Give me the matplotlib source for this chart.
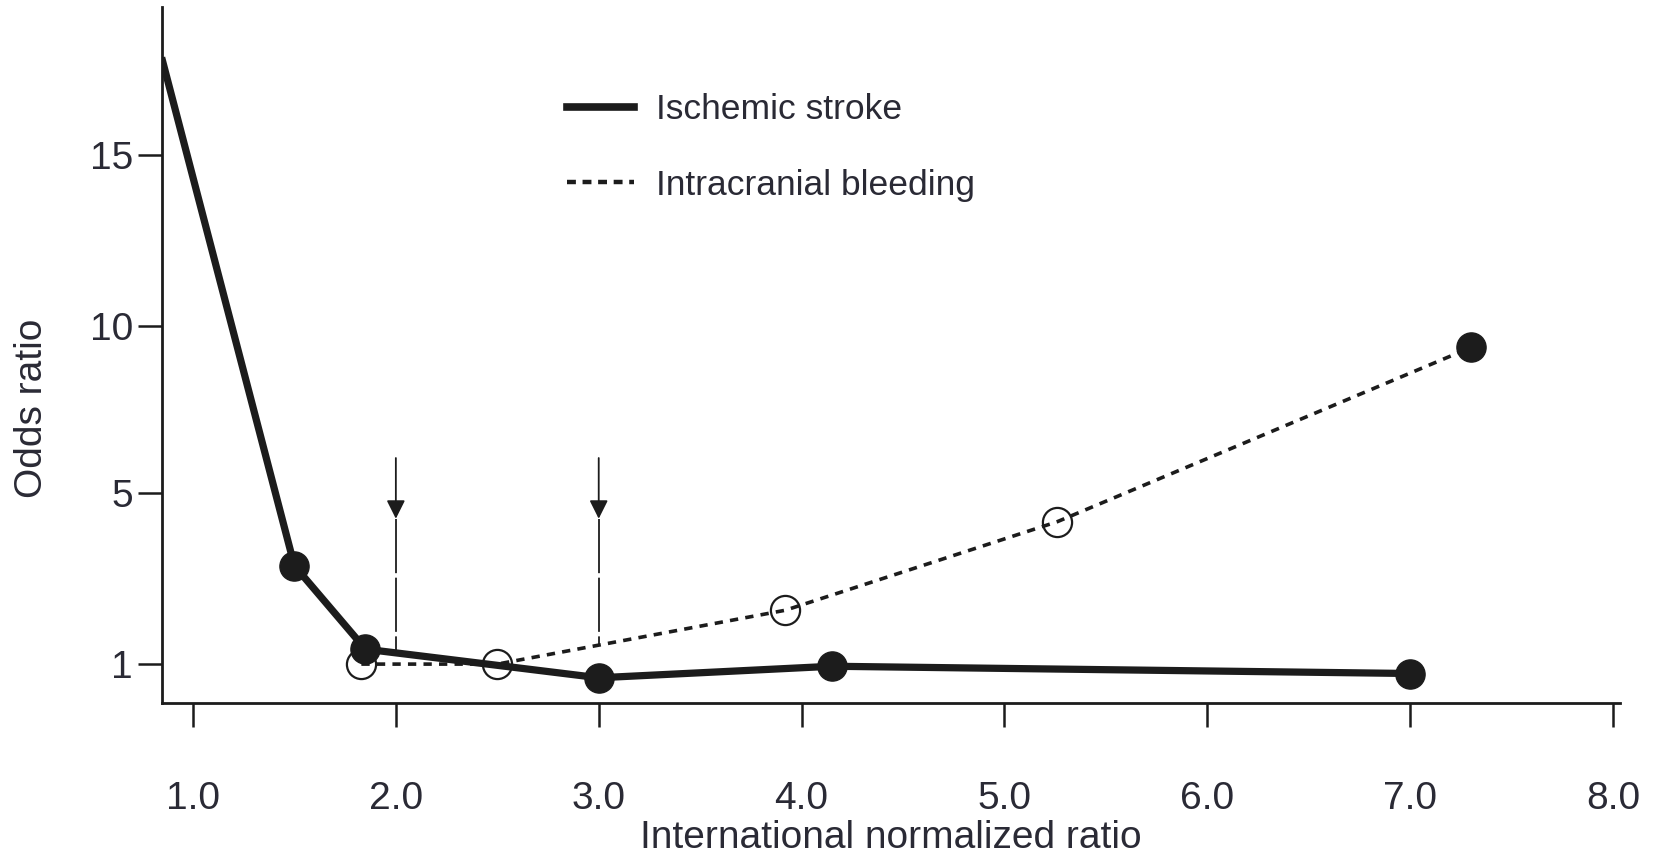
import numpy as np
import matplotlib
matplotlib.use("Agg")
import matplotlib.pyplot as plt
from matplotlib.lines import Line2D

# INR values and odds ratios for the two outcomes
inr_ischemic = [0.85, 1.5, 1.85, 3.0, 4.15, 7.0]
or_ischemic = [17.75, 3.3, 1.35, 0.68, 0.95, 0.78]
marker_ischemic = [False, True, True, True, True, True]

inr_bleeding = [1.83, 2.5, 3.92, 5.26, 7.3]
or_bleeding = [1.0, 1.0, 2.26, 4.33, 9.36]
filled_bleeding = [False, False, False, False, True]

# therapeutic range markers
arrow_inr = [2.0, 3.0]
arrow_top = 6.05
arrow_tip = 4.4

x_ticks = [1.0, 2.0, 3.0, 4.0, 5.0, 6.0, 7.0, 8.0]
y_ticks = [1, 5, 10, 15]

# broken y axis: 0-5 is stretched, 5 and up compressed
y_vals = [0, 1, 5, 10, 15, 25]
y_pos = [-42.75, 0, 171, 338, 509, 851]


def fwd(v):
    return np.interp(v, y_vals, y_pos)


def inv(p):
    return np.interp(p, y_pos, y_vals)


ink = "#1c1c1c"
txt = "#2a2a35"
plt.rcParams["font.family"] = ["Liberation Sans", "DejaVu Sans"]

fig = plt.figure(figsize=(16.61, 8.59), dpi=100)
ax = fig.add_axes([0.0975, 0.1816, 0.8778, 0.8103])
ax.set_yscale("function", functions=(fwd, inv))
ax.set_xlim(0.847, 8.034)
ax.set_ylim(0.09, 19.33)

# bleeding curve (dashed, drawn under the stroke curve)
ax.plot(inr_bleeding, or_bleeding, color=ink, lw=2.6,
        dashes=(2.3, 2.0), zorder=2)
for x, y, f in zip(inr_bleeding, or_bleeding, filled_bleeding):
    if f:
        ax.plot(x, y, "o", ms=21, color=ink, zorder=4)
    else:
        ax.plot(x, y, "o", ms=21, mfc="none", mec=ink, mew=1.6, zorder=3)

# ischemic stroke curve
ax.plot(inr_ischemic, or_ischemic, color=ink, lw=5.2, zorder=5,
        solid_joinstyle="round")
mx = [x for x, m in zip(inr_ischemic, marker_ischemic) if m]
my = [y for y, m in zip(or_ischemic, marker_ischemic) if m]
ax.plot(mx, my, "o", ms=21, color=ink, zorder=6, lw=0)

# arrows at INR 2.0 and 3.0
ends = [np.interp(arrow_inr[0], inr_ischemic, or_ischemic),
        np.interp(arrow_inr[1], inr_bleeding, or_bleeding)]
for x, y_end in zip(arrow_inr, ends):
    ax.annotate("", xy=(x, arrow_tip), xytext=(x, arrow_top),
                arrowprops=dict(arrowstyle="-|>", color=ink, lw=1.3,
                                mutation_scale=28, shrinkA=0, shrinkB=0),
                zorder=4)
    ax.plot([x, x], [arrow_tip, y_end], color=ink, lw=1.3,
            dashes=(30, 2.5), zorder=4)

# axes styling
for s in ["top", "right"]:
    ax.spines[s].set_visible(False)
for s in ["left", "bottom"]:
    ax.spines[s].set_linewidth(2.0)
    ax.spines[s].set_color(ink)

ax.set_xticks(x_ticks)
ax.set_xticklabels([f"{v:.1f}" for v in x_ticks])
ax.set_yticks(y_ticks)
ax.set_yticklabels([str(v) for v in y_ticks])
ax.tick_params(axis="x", length=17, width=1.8, color=ink, pad=39,
               labelsize=28, labelcolor=txt)
ax.tick_params(axis="y", length=17, width=1.8, color=ink, pad=4,
               labelsize=28, labelcolor=txt)
ax.yaxis.set_minor_locator(matplotlib.ticker.NullLocator())

ax.set_xlabel("International normalized ratio", fontsize=28, color=txt)
ax.xaxis.set_label_coords(0.5, -0.168)
ax.set_ylabel("Odds ratio", fontsize=28, color=txt)
ax.yaxis.set_label_coords(-0.077, 0.424)

handles = [Line2D([], [], color=ink, lw=5.5),
           Line2D([], [], color=ink, lw=3.2, dashes=(2.0, 1.5))]
leg = ax.legend(handles, ["Ischemic stroke", "Intracranial bleeding"],
                loc="upper left", bbox_to_anchor=(0.256, 0.922), frameon=False,
                fontsize=25.5, handlelength=1.9, handletextpad=0.6,
                labelspacing=1.2)
for t in leg.get_texts():
    t.set_color(txt)

fig.savefig("out.png", dpi=100)
